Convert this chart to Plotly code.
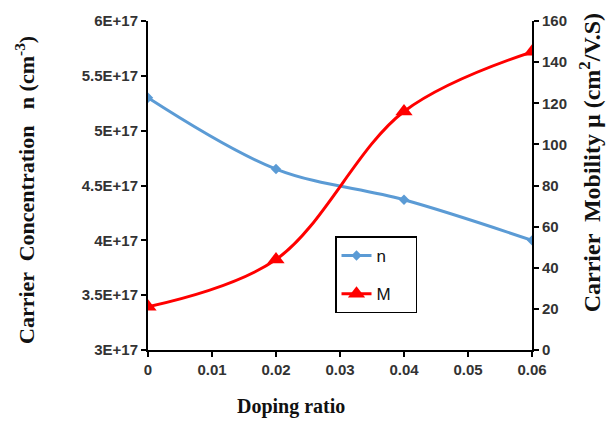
import plotly.graph_objects as go

doping = [0, 0.02, 0.04, 0.06]
n_vals = [5.3e17, 4.65e17, 4.37e17, 4.0e17]
m_vals = [21, 44, 116, 145]

left_tickvals = [3e17, 3.5e17, 4e17, 4.5e17, 5e17, 5.5e17, 6e17]
left_ticktext = ["3E+17", "3.5E+17", "4E+17", "4.5E+17", "5E+17", "5.5E+17", "6E+17"]
x_tickvals = [0, 0.01, 0.02, 0.03, 0.04, 0.05, 0.06]
x_ticktext = ["0", "0.01", "0.02", "0.03", "0.04", "0.05", "0.06"]
right_tickvals = [0, 20, 40, 60, 80, 100, 120, 140, 160]
right_ticktext = ["0", "20", "40", "60", "80", "100", "120", "140", "160"]

pad = "\u00a0" * 4

fig = go.Figure()
fig.add_trace(go.Scatter(
    x=doping, y=n_vals, name="n" + pad, mode="lines+markers", legendgroup="a",
    line=dict(color="#5B9BD5", width=3, shape="spline"),
    marker=dict(symbol="diamond", size=8, color="#5B9BD5"),
    yaxis="y"))
fig.add_trace(go.Scatter(
    x=doping, y=m_vals, name="M" + pad, mode="lines+markers", legendgroup="b",
    line=dict(color="#FF0000", width=3, shape="spline"),
    marker=dict(symbol="triangle-up", size=15, color="#FF0000"),
    yaxis="y2"))

tickfont = dict(family="Liberation Sans, Arial", size=15, color="#333333")
titlefont = dict(family="Liberation Serif, Times New Roman", size=20, color="#111111")
ytitlefont = dict(family="Liberation Serif, Times New Roman", size=22, color="#111111")
y2titlefont = dict(family="Liberation Serif, Times New Roman", size=24, color="#111111")

axis_common = dict(showline=True, linecolor="black", linewidth=2,
                   ticks="outside", ticklen=5, tickwidth=2, tickcolor="black",
                   showgrid=False, zeroline=False, tickfont=tickfont)

def bold(labels):
    return ["<b>%s</b>" % s for s in labels]

fig.update_layout(
    width=608, height=423,
    margin=dict(l=148, r=76, t=17, b=73),
    paper_bgcolor="white", plot_bgcolor="white",
    showlegend=True,
    legend=dict(x=0.487, y=0.345, xanchor="left", yanchor="top",
                bordercolor="black", borderwidth=1.5, bgcolor="white",
                font=dict(family="Liberation Sans, Arial", size=17, color="#111111"),
                tracegroupgap=13),
    xaxis=dict(range=[0, 0.06], tickvals=x_tickvals, ticktext=bold(x_ticktext), **axis_common),
    yaxis=dict(range=[3e17, 6e17], tickvals=left_tickvals, ticktext=bold(left_ticktext), **axis_common),
    yaxis2=dict(range=[0, 160], tickvals=right_tickvals, ticktext=bold(right_ticktext),
                overlaying="y", side="right", **axis_common),
)

fig.add_annotation(text="<b>Doping ratio</b>", xref="paper", yref="paper",
                   x=(291 - 148) / 384, y=(350 - 407) / 333, showarrow=False,
                   xanchor="center", yanchor="middle", font=titlefont)
fig.add_annotation(text="<b>Carrier  Concentration   n (cm<sup>-3</sup>)</b>",
                   xref="paper", yref="paper", textangle=-90,
                   x=(25 - 148) / 384, y=(350 - 188) / 333, showarrow=False,
                   xanchor="center", yanchor="middle", font=ytitlefont)
fig.add_annotation(text="<b>Carrier  Mobility µ (cm<sup>2</sup>/V.S)</b>",
                   xref="paper", yref="paper", textangle=-90,
                   x=(590 - 148) / 384, y=(350 - 161) / 333, showarrow=False,
                   xanchor="center", yanchor="middle", font=y2titlefont)

fig.write_html("out.html")
